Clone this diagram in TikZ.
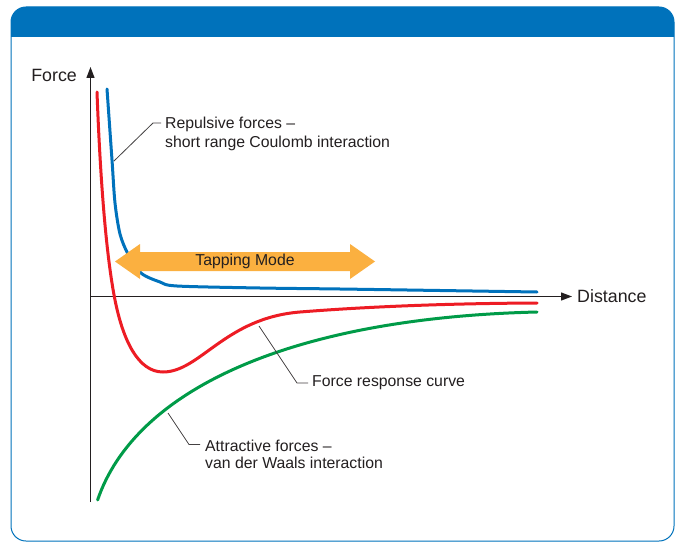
\documentclass[tikz,border=0pt]{standalone}
\usepackage{fontspec}
\setmainfont{Liberation Sans}
\usetikzlibrary{arrows.meta}
\definecolor{hdr}{RGB}{0,114,187}
\definecolor{cblue}{RGB}{0,114,188}
\definecolor{cred}{RGB}{237,28,36}
\definecolor{cgreen}{RGB}{0,155,72}
\definecolor{corange}{RGB}{251,176,64}
\definecolor{ink}{RGB}{35,31,32}
\begin{document}
\begin{tikzpicture}[x=1pt,y=-1pt,
  curve/.style={line width=3pt,line cap=round},
  axisline/.style={ink,line width=1.3pt,-{Triangle[length=11pt,width=8pt]}},
  leader/.style={ink!85,line width=0.8pt},
  lbl/.style={inner sep=0pt,text=ink,font=\fontsize{15.8}{19}\selectfont,align=left},
  axlbl/.style={inner sep=0pt,text=ink,font=\fontsize{17.8}{21}\selectfont}]
\useasboundingbox (0,0) rectangle (680,543);
% frame
\fill[white,rounded corners=15pt] (11,7) rectangle (674,541);
\fill[hdr] (11,37) [rounded corners=15pt]-- (11,7) -- (674,7) [sharp corners]-- (674,37) -- cycle;
\draw[hdr,line width=1pt,rounded corners=15pt] (11,7) rectangle (674,541);
% axes
\coordinate (O) at (90.5,296.5);
\coordinate (ytop) at (90.5,67);
\coordinate (ybot) at (90.5,502);
\coordinate (xend) at (572,296.5);
\draw[axisline] (ybot) -- (ytop);
\draw[axisline] (O) -- (xend);
\node[axlbl,anchor=east] (force) at (77,75) {Force};
\node[axlbl,anchor=west] (dist) at (577,296.5) {Distance};
% curves
\draw[curve,cgreen] (97.6,500) .. controls (135,390) and (290,318) .. (537,312);
\draw[curve,cred] (97,92) .. controls (101,200) and (108,265) .. (115,300)
  .. controls (123,340) and (138,372) .. (163,372)
  .. controls (200,372) and (225,318) .. (300,312)
  .. controls (350,308) and (430,303.5) .. (537,303);
\draw[curve,cblue] plot[smooth,tension=0.5] coordinates {(107,89) (112,160) (115,203) (120,234) (128,254) (141,273) (160,282) (177,286) (260,288) (340,289) (440,290.5) (537,292)};
% tapping mode arrow
\fill[corange] (115,261.5) -- (140,244) -- (140,252) -- (350,252) -- (350,244) -- (375,261.5) -- (350,279) -- (350,271) -- (140,271) -- (140,279) -- cycle;
\node[lbl] (tap) at (245,261) {Tapping Mode};
% labels and leaders
\node[lbl,anchor=north west] (rep) at (165,117) {Repulsive forces –\\short range Coulomb interaction};
\coordinate (repA) at (114,161);
\coordinate (repB) at (153,123);
\draw[leader] (repA) -- (repB) -- ([xshift=-4pt]rep.west |- repB);
\node[lbl,anchor=west] (resp) at (312,383) {Force response curve};
\coordinate (respA) at (259,326);
\coordinate (respB) at (297,383);
\draw[leader] (respA) -- (respB) -- ([xshift=-4pt]resp.west);
\node[lbl,anchor=north west,font=\fontsize{15.8}{17}\selectfont] (att) at (205,439.5) {Attractive forces –\\van der Waals interaction};
\coordinate (attA) at (168,413);
\coordinate (attB) at (189,444.5);
\draw[leader] (attA) -- (attB) -- ([xshift=-5pt]att.west |- attB);
\end{tikzpicture}
\end{document}
